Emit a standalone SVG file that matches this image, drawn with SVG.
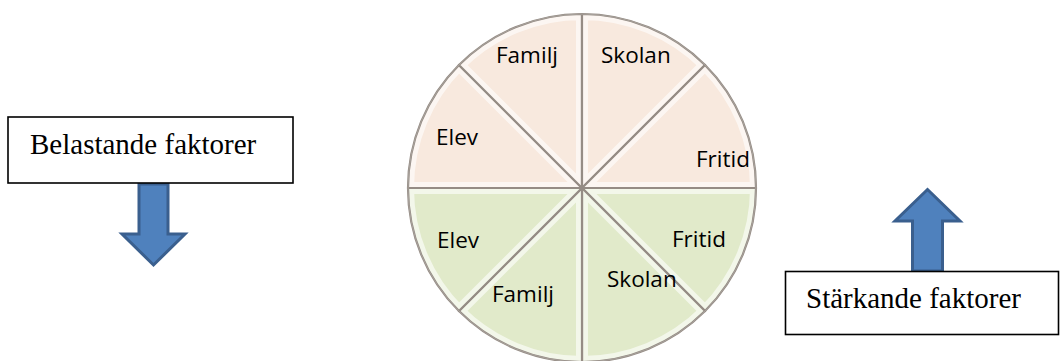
<svg xmlns="http://www.w3.org/2000/svg" xmlns:xlink="http://www.w3.org/1999/xlink" width="1060" height="361" viewBox="0 0 1060 361">
<style>
.box{fill:#ffffff;stroke:#000000;stroke-width:1.6}
.boxtxt{font-family:"Liberation Serif","Times New Roman",serif;font-size:29px;fill:#000000}
.arrow{fill:#4f81bd;stroke:#3a5f8e;stroke-width:3;stroke-linejoin:miter}
.lbl{font-family:"Open Sans","Liberation Sans",sans-serif;font-size:22.5px;fill:#000000}
.top{fill:#f8e9de}
.bot{fill:#e1eaca}
.bevel{fill:none;stroke:#ffffff;stroke-width:12;stroke-opacity:0.6}
.edge{fill:none;stroke:#958c85;stroke-width:2.2;stroke-linejoin:round}
.rim{fill:none;stroke:#a8a29c;stroke-width:1}
</style>
<defs>
<path id="s1" d="M582 188 L408 188 A174 174 0 0 1 458.96 64.96 Z"/>
<path id="s2" d="M582 188 L458.96 64.96 A174 174 0 0 1 582 14 Z"/>
<path id="s3" d="M582 188 L582 14 A174 174 0 0 1 705.04 64.96 Z"/>
<path id="s4" d="M582 188 L705.04 64.96 A174 174 0 0 1 756 188 Z"/>
<path id="s5" d="M582 188 L756 188 A174 174 0 0 1 705.04 311.04 Z"/>
<path id="s6" d="M582 188 L705.04 311.04 A174 174 0 0 1 582 362 Z"/>
<path id="s7" d="M582 188 L582 362 A174 174 0 0 1 458.96 311.04 Z"/>
<path id="s8" d="M582 188 L458.96 311.04 A174 174 0 0 1 408 188 Z"/>
<clipPath id="c1"><use xlink:href="#s1"/></clipPath>
<clipPath id="c2"><use xlink:href="#s2"/></clipPath>
<clipPath id="c3"><use xlink:href="#s3"/></clipPath>
<clipPath id="c4"><use xlink:href="#s4"/></clipPath>
<clipPath id="c5"><use xlink:href="#s5"/></clipPath>
<clipPath id="c6"><use xlink:href="#s6"/></clipPath>
<clipPath id="c7"><use xlink:href="#s7"/></clipPath>
<clipPath id="c8"><use xlink:href="#s8"/></clipPath>
</defs>

<g id="wheel">
  <g id="top-elev"><g clip-path="url(#c1)"><use xlink:href="#s1" class="top"/><use xlink:href="#s1" class="bevel"/></g><use xlink:href="#s1" class="edge"/></g>
  <g id="top-familj"><g clip-path="url(#c2)"><use xlink:href="#s2" class="top"/><use xlink:href="#s2" class="bevel"/></g><use xlink:href="#s2" class="edge"/></g>
  <g id="top-skolan"><g clip-path="url(#c3)"><use xlink:href="#s3" class="top"/><use xlink:href="#s3" class="bevel"/></g><use xlink:href="#s3" class="edge"/></g>
  <g id="top-fritid"><g clip-path="url(#c4)"><use xlink:href="#s4" class="top"/><use xlink:href="#s4" class="bevel"/></g><use xlink:href="#s4" class="edge"/></g>
  <g id="bot-fritid"><g clip-path="url(#c5)"><use xlink:href="#s5" class="bot"/><use xlink:href="#s5" class="bevel"/></g><use xlink:href="#s5" class="edge"/></g>
  <g id="bot-skolan"><g clip-path="url(#c6)"><use xlink:href="#s6" class="bot"/><use xlink:href="#s6" class="bevel"/></g><use xlink:href="#s6" class="edge"/></g>
  <g id="bot-familj"><g clip-path="url(#c7)"><use xlink:href="#s7" class="bot"/><use xlink:href="#s7" class="bevel"/></g><use xlink:href="#s7" class="edge"/></g>
  <g id="bot-elev"><g clip-path="url(#c8)"><use xlink:href="#s8" class="bot"/><use xlink:href="#s8" class="bevel"/></g><use xlink:href="#s8" class="edge"/></g>
  <circle cx="582" cy="188" r="174" class="rim"/>
  <text class="lbl" x="436" y="145">Elev</text>
  <text class="lbl" x="496" y="63">Familj</text>
  <text class="lbl" x="601" y="63">Skolan</text>
  <text class="lbl" x="696" y="167">Fritid</text>
  <text class="lbl" x="437" y="248">Elev</text>
  <text class="lbl" x="492" y="302">Familj</text>
  <text class="lbl" x="607" y="287">Skolan</text>
  <text class="lbl" x="672" y="247">Fritid</text>
</g>

<g id="connectors">
  <polygon id="arrow-down" class="arrow" points="139,184 168,184 168,234 185,234 153.5,265 122,234 139,234"/>
  <polygon id="arrow-up" class="arrow" points="927.5,189.5 960,221 942.5,221 942.5,271 912.5,271 912.5,221 895,221"/>
</g>

<g id="belastande">
  <rect class="box" x="8" y="117" width="285" height="66"/>
  <text class="boxtxt" x="30" y="154">Belastande faktorer</text>
</g>

<g id="starkande">
  <rect class="box" x="785.5" y="271.5" width="273" height="63"/>
  <text class="boxtxt" x="806" y="308">Stärkande faktorer</text>
</g>
</svg>
